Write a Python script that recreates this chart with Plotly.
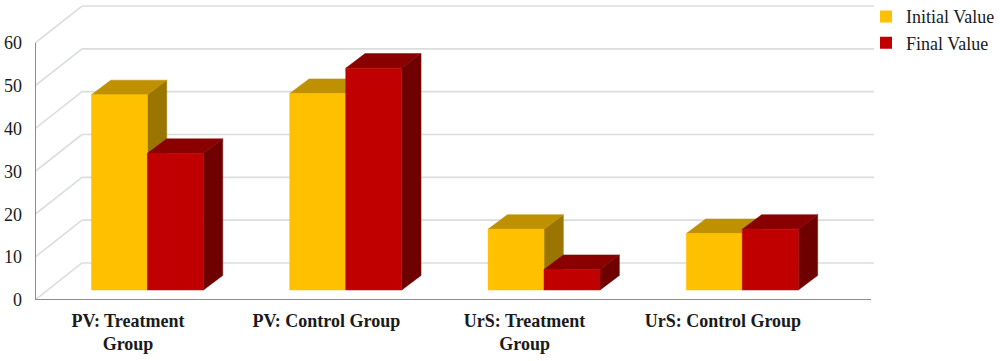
import plotly.graph_objects as go

# ---------------- data ----------------
categories = ["PV: Treatment<br>Group", "PV: Control Group",
              "UrS: Treatment<br>Group", "UrS: Control Group"]
initial_value = [45.6, 45.9, 14.2, 13.2]
final_value = [31.9, 51.8, 4.8, 14.2]
y_ticks = [0, 10, 20, 30, 40, 50, 60]
series_names = ["Initial Value", "Final Value"]

# ---------------- styling / geometry (data units) ----------------
X_LEFT = -0.469          # front-left corner of the floor
X_RIGHT = 3.747          # front-right end of baseline
DEPTH_X = 0.237          # oblique depth of the walls
DEPTH_Y = 8.64
BAR_BASE = 2.335         # bars stand a bit behind the front plane
BAR_SHIFT = 0.098        # boundary between the pair of bars
BAR_W = 0.2824
BAR_DX = 0.0973          # bar depth
BAR_DY = 3.39

COL = {
    "Initial Value": dict(front="#FFC000", top="#BF9000", side="#9A7600"),
    "Final Value": dict(front="#C00000", top="#8A0000", side="#6E0000"),
}
GRID = "#D9DEDD"
AXIS = "#8C8C8C"
FONT = "Liberation Serif"

fig = go.Figure()

# back wall gridlines and left wall diagonals
gx, gy = [], []
for v in y_ticks:
    gx += [X_LEFT + DEPTH_X, X_RIGHT + 0.015, None]
    gy += [v + DEPTH_Y, v + DEPTH_Y, None]
    gx += [X_LEFT, X_LEFT + DEPTH_X, None]
    gy += [v, v + DEPTH_Y, None]
fig.add_trace(go.Scatter(x=gx, y=gy, mode="lines", line=dict(color=GRID, width=1.6),
                         hoverinfo="skip", showlegend=False))

# front axes
fig.add_trace(go.Scatter(x=[X_LEFT, X_LEFT, None, X_LEFT, X_RIGHT],
                         y=[y_ticks[-1], 0, None, 0, 0], mode="lines",
                         line=dict(color=AXIS, width=2), hoverinfo="skip", showlegend=False))


def faces(values, offset):
    fx, fy, tx, ty, sx, sy = [], [], [], [], [], []
    for i, v in enumerate(values):
        xl = i + BAR_SHIFT + offset
        xr = xl + BAR_W
        yb = BAR_BASE
        yt = BAR_BASE + v
        fx += [xl, xr, xr, xl, xl, None]
        fy += [yb, yb, yt, yt, yb, None]
        tx += [xl, xr, xr + BAR_DX, xl + BAR_DX, xl, None]
        ty += [yt, yt, yt + BAR_DY, yt + BAR_DY, yt, None]
        sx += [xr, xr + BAR_DX, xr + BAR_DX, xr, xr, None]
        sy += [yb, yb + BAR_DY, yt + BAR_DY, yt, yb, None]
    return (fx, fy), (tx, ty), (sx, sy)


for name, vals, off in [(series_names[0], initial_value, -BAR_W),
                        (series_names[1], final_value, 0.0)]:
    front, top, side = faces(vals, off)
    c = COL[name]
    for (xs, ys), col in [(side, c["side"]), (top, c["top"]), (front, c["front"])]:
        fig.add_trace(go.Scatter(x=xs, y=ys, mode="lines", fill="toself", fillcolor=col,
                                 line=dict(color=col, width=0.5), hoverinfo="skip",
                                 showlegend=False))

# legend entries
for k, name in enumerate(series_names):
    fig.add_trace(go.Bar(x=[None], y=[None], name=name, legendgroup=name,
                         marker=dict(color=COL[name]["front"], line=dict(width=0))))

fig.update_layout(
    width=1000, height=361,
    margin=dict(l=35, r=120, t=0, b=61, autoexpand=False),
    plot_bgcolor="white", paper_bgcolor="white",
    font=dict(family=FONT, color="#1A1A1A"),
    showlegend=True,
    legend=dict(x=(866 - 35) / 845, xanchor="left", y=1.006, yanchor="top",
                font=dict(family=FONT, size=18, color="#1A1A1A"),
                tracegroupgap=0, traceorder="grouped", bgcolor="rgba(0,0,0,0)"),
    xaxis=dict(range=[X_LEFT, X_LEFT + 845 / 198.3], tickmode="array",
               tickvals=list(range(len(categories))), ticktext=categories,
               showgrid=False, zeroline=False, showline=False, ticks="",
               tickfont=dict(family=FONT, size=18, color="#1A1A1A", weight="bold"),
               ticklabelstandoff=8, fixedrange=True, automargin=False),
    yaxis=dict(range=[0, 300 / 4.283], tickmode="array", tickvals=y_ticks,
               showgrid=False, zeroline=False, showline=False, ticks="",
               tickfont=dict(family=FONT, size=18, color="#1A1A1A"),
               ticklabelstandoff=12, fixedrange=True, automargin=False),
    barmode="overlay",
)

fig.write_html("out.html", config={"displayModeBar": False},
               post_script="document.body.style.margin='0';document.body.style.overflow='hidden';")
